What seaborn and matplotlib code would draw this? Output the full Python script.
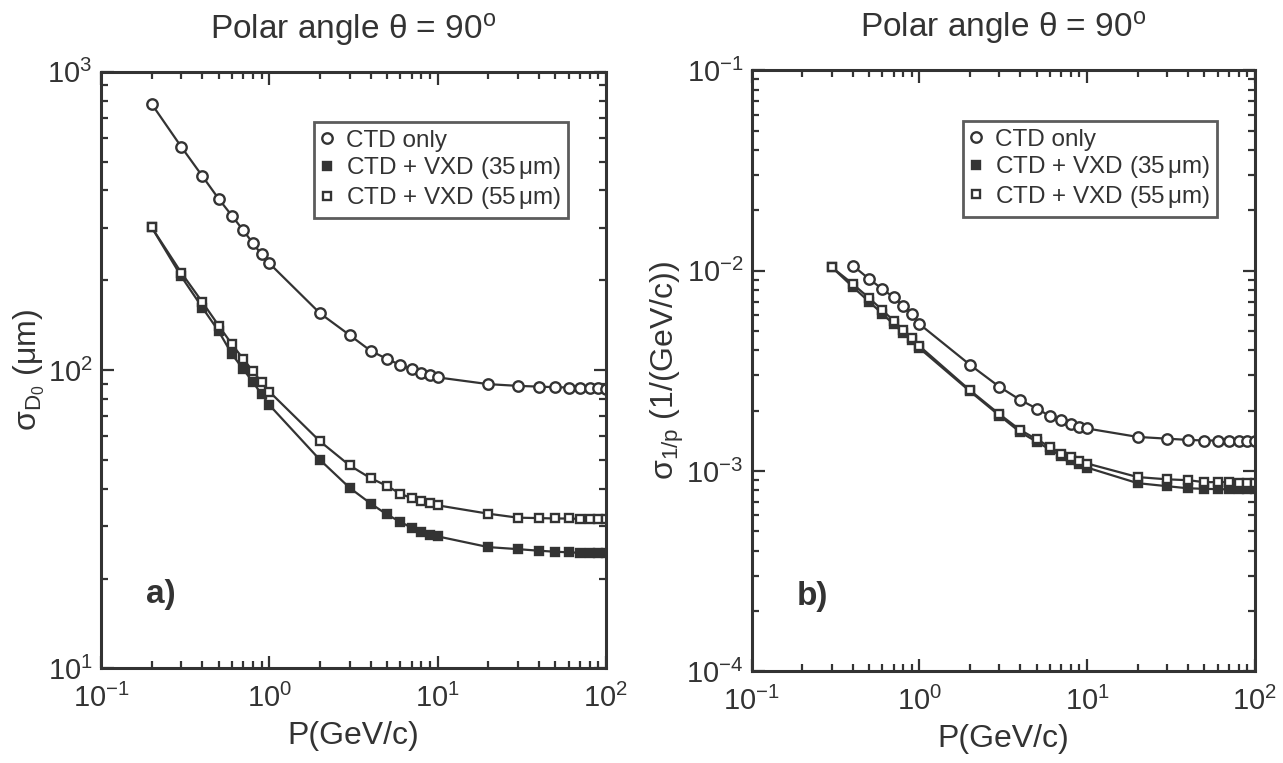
import numpy as np
import pandas as pd
import matplotlib
matplotlib.use("Agg")
import matplotlib.pyplot as plt
import matplotlib.ticker as mticker
import seaborn as sns

# momentum grid (GeV/c)
p_left = [0.2, 0.3, 0.4, 0.5, 0.6, 0.7, 0.8, 0.9, 1.0,
          2, 3, 4, 5, 6, 7, 8, 9, 10,
          20, 30, 40, 50, 60, 70, 80, 90, 100]

# a) sigma_D0 (um)
d0_ctd = [780, 560, 447, 375, 329, 294, 266, 244, 228,
          155, 131, 116, 109, 104, 100.8, 98, 96, 94.5,
          89.7, 88.5, 88, 87.6, 87.4, 87.2, 87, 86.8, 86.5]
d0_vxd35 = [301, 206, 162, 135, 113, 100.7, 91, 83, 76.4,
            50, 40.3, 35.7, 32.8, 31.0, 29.6, 28.7, 27.9, 27.7,
            25.5, 25.1, 24.8, 24.6, 24.5, 24.4, 24.4, 24.3, 24.3]
d0_vxd55 = [301, 212, 169, 141, 122, 109, 99, 91, 84.7,
            57.7, 47.9, 43.4, 40.9, 38.5, 37.2, 36.4, 35.9, 35.2,
            33.0, 32.0, 31.9, 31.8, 31.8, 31.7, 31.7, 31.7, 31.7]

# b) sigma_1/p (1/(GeV/c))
p_right_ctd = [0.4, 0.5, 0.6, 0.7, 0.8, 0.9, 1.0,
               2, 3, 4, 5, 6, 7, 8, 9, 10,
               20, 30, 40, 50, 60, 70, 80, 90, 100]
p_right_vxd = [0.3, 0.4, 0.5, 0.6, 0.7, 0.8, 0.9, 1.0,
               2, 3, 4, 5, 6, 7, 8, 9, 10,
               20, 30, 40, 50, 60, 70, 80, 90, 100]
ip_ctd = [0.0106, 0.00909, 0.00810, 0.00736, 0.00668, 0.00607, 0.00541,
          0.00339, 0.00263, 0.00226, 0.00205, 0.00188, 0.00179, 0.00171, 0.00166, 0.00163,
          0.00148, 0.00145, 0.00143, 0.00142, 0.00142, 0.00141, 0.00141, 0.00141, 0.00141]
ip_vxd35 = [0.0104, 0.0083, 0.0070, 0.0061, 0.0054, 0.0049, 0.0045, 0.0041,
            0.00250, 0.00189, 0.00156, 0.00140, 0.00128, 0.00119, 0.00113, 0.00108, 0.00104,
            0.00087, 0.00084, 0.00082, 0.000815, 0.000812, 0.00081, 0.00081, 0.00081, 0.00081]
ip_vxd55 = [0.0104, 0.00858, 0.00730, 0.00636, 0.00562, 0.00505, 0.00461, 0.00420,
            0.00253, 0.00192, 0.00160, 0.00144, 0.00132, 0.00122, 0.00117, 0.00112, 0.00109,
            0.000933, 0.000909, 0.00090, 0.00088, 0.00088, 0.00088, 0.00087, 0.00087, 0.00087]

labels = ["CTD only", r"CTD + VXD (35$\,\mu$m)", r"CTD + VXD (55$\,\mu$m)"]

sns.set_theme(style="ticks")
plt.rcParams["font.family"] = ["Liberation Sans", "DejaVu Sans"]
plt.rcParams["mathtext.fontset"] = "custom"
plt.rcParams["mathtext.rm"] = "Liberation Sans"
plt.rcParams["mathtext.it"] = "Liberation Sans:italic"
plt.rcParams["mathtext.default"] = "regular"

ink = "#333333"
fig = plt.figure(figsize=(12.83, 7.63), dpi=100)
ax1 = fig.add_axes([0.0787, 0.124, 0.3936, 0.782])
ax2 = fig.add_axes([0.586, 0.120, 0.392, 0.788])

styles = [
    dict(marker="o", markersize=7.5, markerfacecolor="white"),
    dict(marker="s", markersize=5.5, markerfacecolor=ink),
    dict(marker="s", markersize=5.5, markerfacecolor="white"),
]


def draw(ax, series, ylim, ylabel, tag):
    for (x, y), lab, st in zip(series, labels, styles):
        df = pd.DataFrame({"P": x, "sigma": y})
        sns.lineplot(data=df, x="P", y="sigma", ax=ax, color=ink, linewidth=1.6,
                     markeredgecolor=ink, markeredgewidth=1.7, label=lab, **st)
    ax.set_xscale("log")
    ax.set_yscale("log")
    ax.set_xlim(0.1, 100)
    ax.set_ylim(*ylim)
    ax.set_title(r"Polar angle $\theta$ = 90$^o$", fontsize=24, color=ink, pad=24)
    ax.set_xlabel("P(GeV/c)", fontsize=23, color=ink, labelpad=6)
    ax.set_ylabel(ylabel, fontsize=23, color=ink, labelpad=0)
    ax.tick_params(which="both", direction="in", top=True, right=True,
                   color=ink, width=1.6, labelcolor=ink, labelsize=21)
    ax.tick_params(axis="x", which="major", pad=11)
    ax.tick_params(axis="y", which="major", pad=6)
    ax.tick_params(which="major", length=9)
    ax.tick_params(which="minor", length=5)
    ax.xaxis.set_minor_formatter(mticker.NullFormatter())
    ax.yaxis.set_minor_formatter(mticker.NullFormatter())
    ax.xaxis.set_minor_locator(mticker.LogLocator(subs=np.arange(2, 10), numticks=20))
    ax.yaxis.set_minor_locator(mticker.LogLocator(subs=np.arange(2, 10), numticks=20))
    for s in ax.spines.values():
        s.set_linewidth(2.2)
        s.set_color(ink)
    leg = ax.legend(loc="upper right", bbox_to_anchor=(0.925, 0.915), fontsize=17.5,
                    frameon=True, fancybox=False, handlelength=0.5, handletextpad=0.5,
                    borderpad=0.3, labelspacing=0.15, borderaxespad=0)
    for h in leg.get_lines():
        h.set_linestyle("none")
    leg.get_frame().set_edgecolor(ink)
    leg.get_frame().set_linewidth(2)
    for t in leg.get_texts():
        t.set_color(ink)
    ax.text(0.09, 0.11, tag, transform=ax.transAxes, fontsize=24,
            fontweight="bold", color=ink)


draw(ax1, [(p_left, d0_ctd), (p_left, d0_vxd35), (p_left, d0_vxd55)],
     (10, 1000), r"$\sigma_{D_0}$ ($\mu$m)", "a)")
draw(ax2, [(p_right_ctd, ip_ctd), (p_right_vxd, ip_vxd35), (p_right_vxd, ip_vxd55)],
     (1e-4, 1e-1), r"$\sigma_{1/p}$ (1/(GeV/c))", "b)")

fig.savefig("out.png", dpi=100)
